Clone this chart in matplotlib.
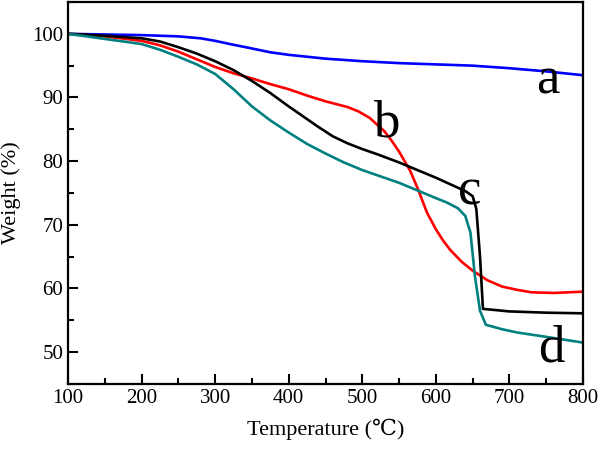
import matplotlib
matplotlib.use('Agg')
import matplotlib.pyplot as plt
from matplotlib.ticker import MultipleLocator

plt.rcParams['font.family'] = ['Liberation Serif', 'DejaVu Serif']

# TGA curves (temperature in C, weight in %)
x_a = [100, 150, 200, 250, 280, 300, 320, 350, 375, 400, 425, 450, 500, 550, 600, 650,
       700, 750, 800]
y_a = [100, 99.9, 99.8, 99.6, 99.3, 98.9, 98.4, 97.7, 97.1, 96.7, 96.4, 96.1, 95.7, 95.4,
       95.2, 95.0, 94.6, 94.1, 93.5]

x_b = [100, 150, 200, 225, 250, 275, 300, 325, 350, 375, 400, 425, 450, 480, 495, 510,
       530, 540, 550, 565, 575, 588, 600, 610, 620, 635, 650, 670, 690, 710, 730, 760, 800]
y_b = [100, 99.6, 98.9, 98.2, 97.2, 96.0, 94.8, 93.8, 93.0, 92.1, 91.3, 90.3, 89.4, 88.5,
       87.8, 86.8, 84.7, 83.2, 81.5, 78.5, 75.8, 71.9, 69.3, 67.5, 66.0, 64.2, 62.8, 61.3,
       60.3, 59.8, 59.4, 59.3, 59.5]

x_c = [100, 150, 200, 225, 250, 275, 300, 325, 350, 375, 400, 420, 440, 460, 480, 500,
       520, 550, 600, 640, 650, 655, 660, 664, 700, 750, 800]
y_c = [100, 99.7, 99.3, 98.8, 97.9, 96.9, 95.7, 94.3, 92.6, 90.7, 88.6, 87.0, 85.4, 83.9,
       82.8, 81.9, 81.1, 79.8, 77.4, 75.3, 74.5, 72.5, 65.0, 56.8, 56.4, 56.2, 56.1]

x_d = [100, 150, 200, 225, 250, 275, 300, 325, 350, 375, 400, 425, 450, 475, 500, 525,
       550, 575, 600, 615, 630, 640, 647, 653, 660, 668, 690, 710, 750, 800]
y_d = [100, 99.2, 98.4, 97.5, 96.4, 95.2, 93.7, 91.3, 88.6, 86.4, 84.5, 82.7, 81.2, 79.8,
       78.6, 77.6, 76.6, 75.4, 74.2, 73.5, 72.6, 71.4, 68.8, 62.0, 56.5, 54.3, 53.6, 53.1,
       52.4, 51.5]

curve_labels = ['a', 'b', 'c', 'd']
label_x = [752, 533, 646, 757]
label_y = [90.6, 83.8, 73.2, 48.6]

fig = plt.figure(figsize=(6, 4.54), dpi=100)
ax = fig.add_axes([0.1133, 0.1542, 0.8584, 0.8414])

ax.plot(x_a, y_a, color='#0000ff', lw=1.9)
ax.plot(x_b, y_b, color='#ff0000', lw=1.9)
ax.plot(x_c, y_c, color='black', lw=1.9)
ax.plot(x_d, y_d, color='#008080', lw=1.9)

for lab, lx, ly in zip(curve_labels, label_x, label_y):
    ax.text(lx, ly, lab, fontsize=38, ha='center', va='baseline')

ax.set_xlim(100, 800)
ax.set_ylim(45, 105)
ax.xaxis.set_major_locator(MultipleLocator(100))
ax.xaxis.set_minor_locator(MultipleLocator(50))
ax.yaxis.set_major_locator(MultipleLocator(10))
ax.yaxis.set_minor_locator(MultipleLocator(5))
ax.tick_params(which='both', direction='in', width=1.5, labelsize=15)
ax.tick_params(which='major', length=7)
ax.tick_params(which='minor', length=4)
for s in ax.spines.values():
    s.set_linewidth(1.6)

ax.set_xlabel('Temperature (℃)', fontsize=16, labelpad=8)
ax.set_ylabel('Weight (%)', fontsize=16, labelpad=8)

fig.savefig('out.png', dpi=100)
